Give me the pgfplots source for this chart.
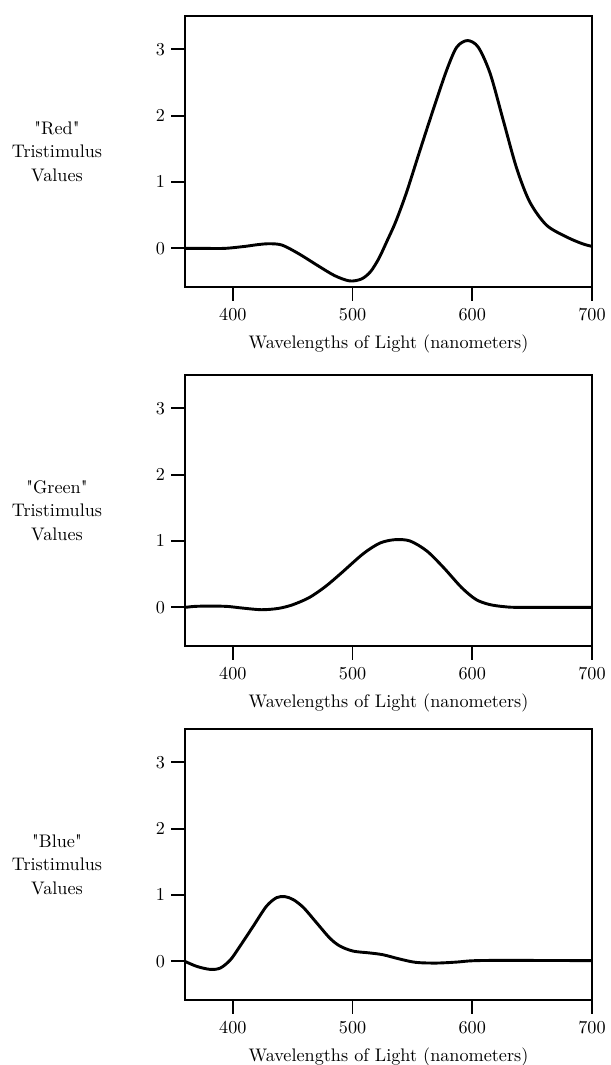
\documentclass[border=0pt]{standalone}
\usepackage{fontspec}
\usepackage{pgfplots}
\pgfplotsset{compat=1.18}

\pgfplotsset{
  tri/.style={
    scale only axis,
    width=223.85pt, height=149pt,
    xmin=360, xmax=700,
    ymin=-0.58, ymax=3.5,
    xtick={400,500,600,700},
    ytick={0,1,2,3},
    tick pos=left,
    tick align=outside,
    major tick length=7.5pt,
    axis line style={line width=1pt},
    tick style={line width=1pt, black},
    xlabel={Wavelengths of Light (nanometers)},
    xlabel style={at={(axis description cs:0.5,0)}, anchor=center, yshift=-31.35pt},
    ylabel style={at={(axis description cs:-0.3145,0.5)}, rotate=-90, anchor=center, align=center},
    x tick label style={yshift=-1pt},
  },
  curve/.style={black, line width=1.6pt, smooth, no marks},
}
\newcommand{\q}[1]{\textquotedbl#1\textquotedbl}

\begin{document}
\begin{tikzpicture}
\path[use as bounding box] (0,0) rectangle (335.5pt,-585.75pt);

% "Red"
\begin{axis}[tri, at={(101.75pt,-8.8pt)}, anchor=north west,
  ylabel={\q{Red}\\[1pt]Tristimulus\\[1pt]Values}]
\addplot[curve] coordinates {
(360,0.0) (376,0.0) (393,0.0) (410,0.03) (420,0.055) (430,0.07) (441,0.05)
(455,-0.08) (471,-0.26) (485,-0.41) (497.5,-0.49) (507.5,-0.46)
(515,-0.35) (522,-0.15) (529,0.12) (536,0.40) (545,0.84) (556,1.46) (567,2.07)
(578.5,2.68) (587,3.03) (596,3.13) (605,3.03) (615,2.63) (626,1.92)
(637,1.21) (648,0.70) (662,0.35) (679,0.17) (692,0.07) (700,0.03)
};
\end{axis}

% "Green"
\begin{axis}[tri, at={(101.75pt,-206.25pt)}, anchor=north west,
  ylabel={\q{Green}\\[1pt]Tristimulus\\[1pt]Values}]
\addplot[curve] coordinates {
(360,0) (368,0.015) (380,0.02) (395,0.015) (408,-0.01) (424,-0.035)
(438,-0.015) (450,0.04) (464,0.15) (477,0.31) (489.5,0.50) (509,0.81)
(523,0.97) (535.5,1.02) (548,1.0) (562,0.85) (576,0.60) (591,0.30)
(603,0.12) (614,0.045) (626,0.012) (640,0) (700,0)
};
\end{axis}

% "Blue"
\begin{axis}[tri, at={(101.75pt,-400.95pt)}, anchor=north west,
  ylabel={\q{Blue}\\[1pt]Tristimulus\\[1pt]Values}]
\addplot[curve] coordinates {
(360,0) (370,-0.076) (381,-0.12) (389.5,-0.10) (398,0.025) (406,0.23)
(417,0.53) (428,0.83) (436.5,0.96) (443.5,0.975) (450.5,0.93) (459,0.81)
(470,0.58) (481,0.35) (489.5,0.23) (500.5,0.155) (514,0.128) (525.5,0.10)
(539.5,0.035) (553,-0.015) (570,-0.025) (587,-0.01) (600.5,0.01)
(625,0.015) (700,0.012)
};
\end{axis}
\end{tikzpicture}
\end{document}
